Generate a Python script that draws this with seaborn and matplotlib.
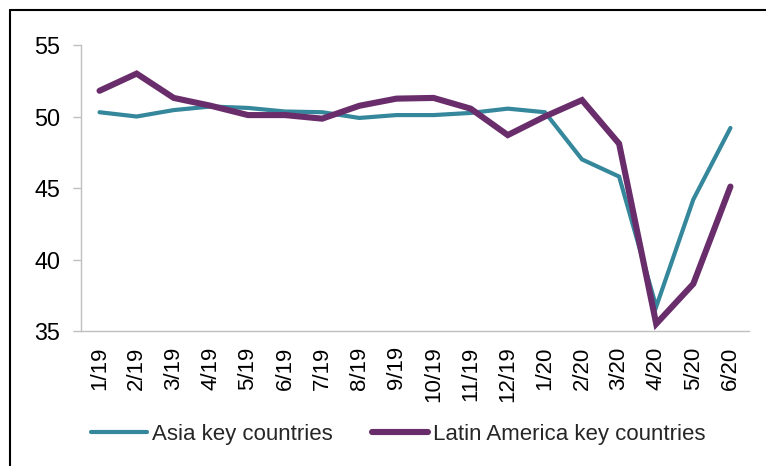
import matplotlib
matplotlib.use("Agg")
import matplotlib.pyplot as plt
from matplotlib.lines import Line2D
import seaborn as sns
import pandas as pd

months = ["1/19", "2/19", "3/19", "4/19", "5/19", "6/19", "7/19", "8/19", "9/19",
          "10/19", "11/19", "12/19", "1/20", "2/20", "3/20", "4/20", "5/20", "6/20"]
asia = [50.3, 50.0, 50.45, 50.7, 50.6, 50.35, 50.3, 49.9, 50.1,
        50.1, 50.25, 50.55, 50.3, 47.0, 45.8, 36.7, 44.2, 49.2]
latam = [51.8, 53.0, 51.3, 50.75, 50.1, 50.1, 49.85, 50.75, 51.25,
         51.3, 50.55, 48.7, 50.0, 51.15, 48.1, 35.5, 38.3, 45.1]
series_names = ["Asia key countries", "Latin America key countries"]
colors = ["#35879B", "#6A2D6B"]
widths = [3.0, 4.4]

df = pd.concat([
    pd.DataFrame({"month": months, "idx": range(len(months)), "value": asia, "series": series_names[0]}),
    pd.DataFrame({"month": months, "idx": range(len(months)), "value": latam, "series": series_names[1]}),
])

sns.set_theme(style="white")
plt.rcParams["font.family"] = ["Liberation Sans", "DejaVu Sans"]

fig = plt.figure(figsize=(7.66, 4.66), dpi=100)
ax = fig.add_axes([0.1057, 0.2897, 0.8721, 0.6137])

for name, col, lw in zip(series_names, colors, widths):
    sub = df[df["series"] == name]
    sns.lineplot(data=sub, x="idx", y="value", color=col, linewidth=lw, ax=ax,
                 legend=False, solid_joinstyle="miter", solid_capstyle="round")

ax.set_xlim(-0.5, len(months) - 0.5)
ax.set_ylim(35, 55)
ax.set_yticks([35, 40, 45, 50, 55])
ax.set_xticks(range(len(months)))
ax.set_xticklabels(months, rotation=90)
ax.set_xlabel("")
ax.set_ylabel("")

for side in ["top", "right"]:
    ax.spines[side].set_visible(False)
for side in ["left", "bottom"]:
    ax.spines[side].set_color("#BFBFBF")
    ax.spines[side].set_linewidth(1.0)

ax.tick_params(axis="y", which="major", length=5.5, width=1.0, color="#BFBFBF",
               labelsize=16.8, pad=9.5, left=True, labelcolor="#000000")
ax.tick_params(axis="x", which="major", length=0, labelsize=16, pad=11,
               labelcolor="#000000")

handles = [Line2D([0], [0], color=c, linewidth=lw, solid_capstyle="round")
           for c, lw in zip(colors, widths)]
fig.legend(handles, series_names, loc="center", bbox_to_anchor=(0.52, 0.068),
           ncol=2, frameon=False, fontsize=16, handlelength=2.5,
           handletextpad=0.23, columnspacing=1.8)

# outer frame (top and left edges visible)
fig.add_artist(Line2D([9.5 / 766, 1.0], [1 - 9.5 / 466, 1 - 9.5 / 466],
                      transform=fig.transFigure, color="#000000", linewidth=1.5))
fig.add_artist(Line2D([9.5 / 766, 9.5 / 766], [0.0, 1 - 9.5 / 466],
                      transform=fig.transFigure, color="#000000", linewidth=1.5))

fig.savefig("out.png", dpi=100, facecolor="white")
